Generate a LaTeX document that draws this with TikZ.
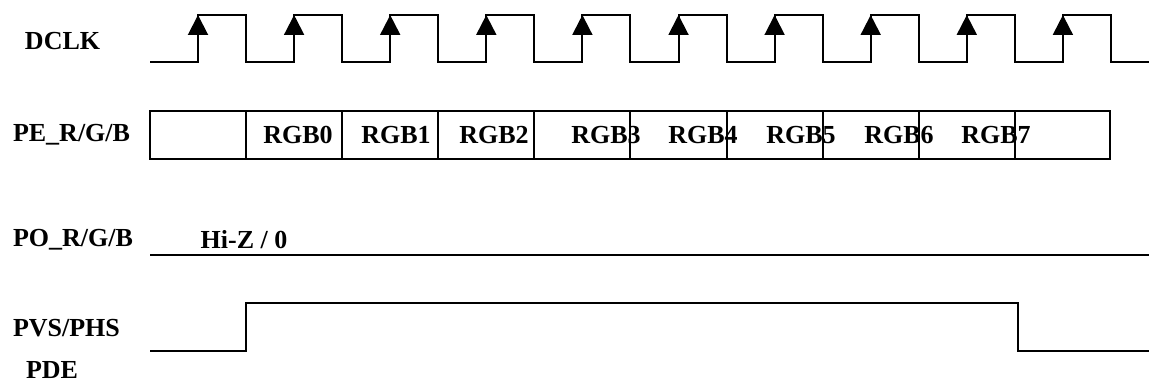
\documentclass[tikz,border=0pt]{standalone}
\usepackage{fontspec}
\setmainfont{Liberation Serif}
\usetikzlibrary{arrows.meta,positioning}

\begin{document}
\begin{tikzpicture}[x=0.5pt, y=-0.5pt, line width=1pt,
    sig/.style={font=\fontsize{13}{15}\selectfont\bfseries, inner sep=0pt},
    edge/.style={-{Triangle[length=10pt,width=10pt]}}]
          \useasboundingbox (0,0) rectangle (1149,385);

          % signal names
          \node[sig, anchor=west] (dclk) at (24,41) {DCLK};
          \node[sig, anchor=west] (pe) at (12,135) {PE\_R/G/B};
          \node[sig, anchor=west] (po) at (12,240) {PO\_R/G/B};
          \node[sig, anchor=west] (pvs) at (12,328) {PVS/PHS};
          \node[sig, anchor=west] (pde) at (25,370) {PDE};

          % DCLK
          \draw (150,62)
            \foreach \i in {0,...,9} {
              -- ({198+96.1*\i},62) -- ({198+96.1*\i},15)
              -- ({246+96.1*\i},15) -- ({246+96.1*\i},62)
            } -- (1149,62);
          \foreach \i in {0,...,9}
            \draw[edge] ({198+96.1*\i},62) -- ({198+96.1*\i},15);

          % PE_R/G/B
          \draw (150,111) rectangle (1110,159);
          \foreach \i in {0,...,8}
            \draw ({246+96.1*\i},111) -- ({246+96.1*\i},159);
          \foreach \x/\n in {298/0, 396/1, 494/2, 606/3, 703/4, 801/5, 899/6, 996/7}
            \node[sig] (rgb\n) at (\x,135) {RGB\n};

          % PO_R/G/B
          \node[sig] (hiz) at (244,240) {Hi-Z / 0};
          \draw (150,255) -- (1149,255);

          % PVS/PHS
          \draw (150,351) -- (246,351) -- (246,303) -- (1018,303) -- (1018,351) -- (1149,351);
        \end{tikzpicture}
\end{document}
